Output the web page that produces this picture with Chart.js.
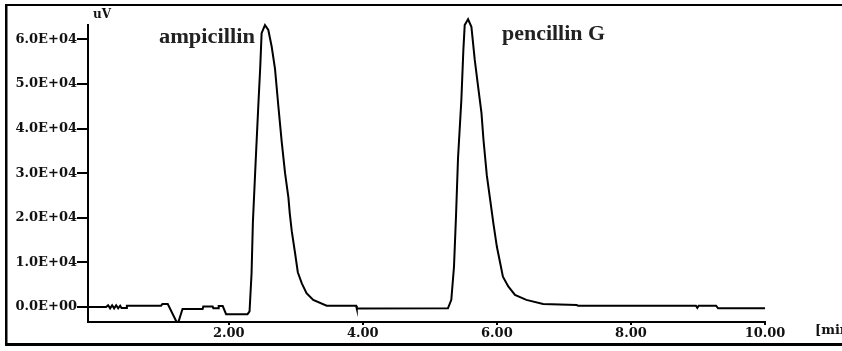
<!DOCTYPE html>
<html>
<head>
<meta charset="utf-8">
<script src="https://cdn.jsdelivr.net/npm/chart.js"></script>
<style>
  html, body { margin: 0; padding: 0; background: #fff; }
</style>
</head>
<body>
<canvas id="myChart" width="842" height="351"></canvas>
<script>
// retention time (min) and detector signal (uV)
const times = [-0.10, 0.17, 0.20, 0.23, 0.26, 0.29, 0.32, 0.35, 0.38, 0.40,
  0.47, 0.48, 0.99, 1.01, 1.09, 1.22, 1.25, 1.31, 1.61, 1.62,
  1.76, 1.77, 1.84, 1.85, 1.91, 1.96, 2.28, 2.31, 2.34, 2.36,
  2.40, 2.44, 2.47, 2.49, 2.54, 2.59, 2.64, 2.69, 2.74, 2.79,
  2.84, 2.89, 2.91, 2.94, 2.99, 3.03, 3.09, 3.16, 3.26, 3.46,
  3.90, 3.91, 5.27, 5.32, 5.36, 5.39, 5.42, 5.47, 5.50, 5.52,
  5.57, 5.62, 5.67, 5.72, 5.77, 5.80, 5.85, 5.90, 5.95, 6.00,
  6.05, 6.09, 6.17, 6.27, 6.44, 6.69, 7.19, 7.21, 8.97, 8.99,
  9.01, 9.27, 9.30, 9.40, 10.00];
const signal = [0, 0, 400, -300, 400, -300, 400, -300, 300, -200,
  -200, 300, 300, 650, 650, -3300, -3300, -450, -450, 100,
  100, -250, -250, 200, 200, -1600, -1600, -1000, 7500, 19000,
  32200, 44900, 53900, 61400, 63200, 62100, 58400, 53400, 45000, 37000,
  30000, 24500, 21000, 17000, 12000, 7800, 5300, 3100, 1600, 300,
  300, -350, -300, 1600, 9000, 20300, 33300, 46400, 57600, 63200,
  64500, 62800, 55400, 49400, 43500, 37500, 29500, 24000, 18500, 13500,
  9800, 6800, 4600, 2700, 1600, 700, 450, 300, 300, -200,
  300, 300, -300, -300, -300];

const xTicks = [2, 4, 6, 8, 10];
const yTicks = [0, 10000, 20000, 30000, 40000, 50000, 60000];
const peakNames = ['ampicillin', 'pencillin G'];
const peakTimes = [2.54, 5.57];

const tickFont = { family: 'DejaVu Serif', size: 13, weight: 'bold' };

function sci(v) {
  if (v === 0) return '0.0E+00';
  const e = Math.floor(Math.log10(Math.abs(v)));
  const m = v / Math.pow(10, e);
  return m.toFixed(1) + 'E+' + String(e).padStart(2, '0');
}

// squeeze/stretch a label to the width it has in the picture
function fitText(c, txt, x, y, w) {
  const natural = c.measureText(txt).width;
  c.save();
  c.translate(x, y);
  c.scale(w / natural, 1);
  c.fillText(txt, 0, 0);
  c.restore();
}

const decorations = {
  id: 'decorations',
  afterDraw(chart) {
    const c = chart.ctx;
    const xs = chart.scales.x;
    c.save();
    c.fillStyle = '#000';
    c.fillRect(5, 4, 837, 2);
    c.fillRect(5, 4, 2.5, 342);
    c.fillRect(5, 343, 837, 3);

    c.fillStyle = '#111';
    c.font = 'bold 12px "DejaVu Serif"';
    c.textBaseline = 'middle';
    c.fillText('uV', 93, 15);
    c.font = 'bold 13px "DejaVu Serif"';
    c.fillText('[min', 815, 331);

    c.fillStyle = '#222';
    c.font = 'bold 20px "Liberation Serif"';
    c.textBaseline = 'alphabetic';
    fitText(c, peakNames[0], xs.getPixelForValue(peakTimes[0]) - 106, 43, 96);
    fitText(c, peakNames[1], xs.getPixelForValue(peakTimes[1]) + 34, 40, 103);
    c.restore();
  }
};

const ctx = document.getElementById('myChart');

new Chart(ctx, {
  type: 'line',
  data: {
    datasets: [{
      data: times.map((t, i) => ({ x: t, y: signal[i] })),
      borderColor: '#000',
      borderWidth: 2,
      pointRadius: 0,
      tension: 0,
      fill: false,
      clip: false
    }]
  },
  options: {
    responsive: false,
    animation: false,
    layout: { padding: { top: 25, right: 77, left: 0, bottom: 0 } },
    plugins: {
      legend: { display: false },
      tooltip: { enabled: false }
    },
    scales: {
      x: {
        type: 'linear',
        min: -0.1,
        max: 10,
        afterBuildTicks: s => { s.ticks = xTicks.map(v => ({ value: v })); },
        afterFit: s => { s.height = 29; },
        border: { color: '#000', width: 2 },
        grid: { drawOnChartArea: false, color: '#000', lineWidth: 2, tickLength: 3 },
        ticks: {
          color: '#111',
          font: tickFont,
          padding: 1,
          maxRotation: 0,
          callback: v => v.toFixed(2)
        }
      },
      y: {
        min: -3360,
        max: 63220,
        afterBuildTicks: s => { s.ticks = yTicks.map(v => ({ value: v })); },
        afterFit: s => { s.width = 88; },
        border: { color: '#000', width: 2 },
        grid: { drawOnChartArea: false, color: '#000', lineWidth: 2, tickLength: 11 },
        ticks: {
          color: '#111',
          font: tickFont,
          padding: 0,
          callback: v => sci(v)
        }
      }
    }
  },
  plugins: [decorations]
});
</script>
</body>
</html>
